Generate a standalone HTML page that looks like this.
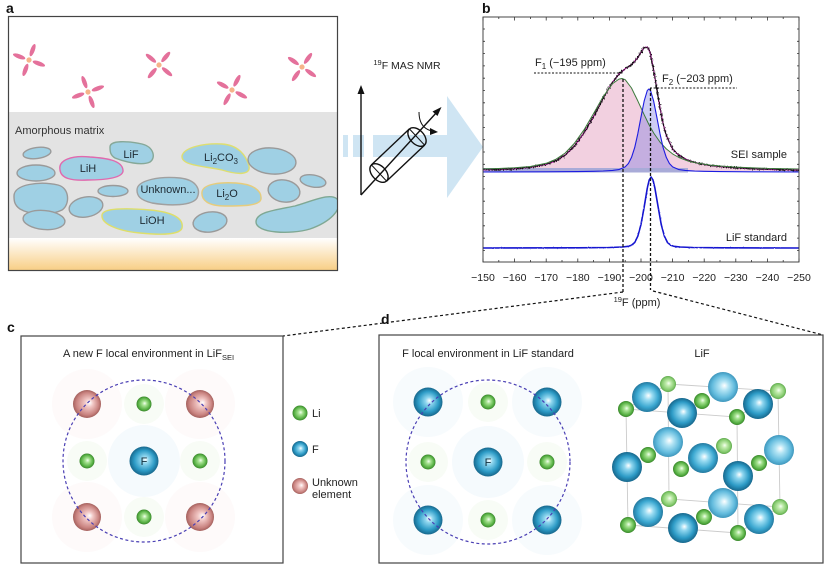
<!DOCTYPE html>
<html><head><meta charset="utf-8">
<style>
html,body{margin:0;padding:0;background:#fff;}
svg{display:block;font-family:"Liberation Sans",Arial,sans-serif;}
</style></head><body>
<svg width="829" height="572" viewBox="0 0 829 572" xmlns="http://www.w3.org/2000/svg">
<defs>
 <linearGradient id="gOr" x1="0" y1="0" x2="0" y2="1"><stop offset="0" stop-color="#ffffff"/><stop offset="1" stop-color="#f8cf86"/></linearGradient>
 <radialGradient id="gBd" cx="0.5" cy="0.5" r="0.5" fx="0.55" fy="0.45"><stop offset="0" stop-color="#ffffff"/><stop offset="0.25" stop-color="#8fd6ef"/><stop offset="0.7" stop-color="#2d9bc6"/><stop offset="1" stop-color="#17678c"/></radialGradient>
 <radialGradient id="gBm" cx="0.5" cy="0.5" r="0.5" fx="0.55" fy="0.45"><stop offset="0" stop-color="#ffffff"/><stop offset="0.28" stop-color="#9adcf2"/><stop offset="0.72" stop-color="#3aa7d0"/><stop offset="1" stop-color="#24799f"/></radialGradient>
 <radialGradient id="gBl" cx="0.5" cy="0.5" r="0.5" fx="0.55" fy="0.45"><stop offset="0" stop-color="#ffffff"/><stop offset="0.3" stop-color="#b2e4f4"/><stop offset="0.75" stop-color="#62bbdd"/><stop offset="1" stop-color="#3f97bd"/></radialGradient>
 <radialGradient id="gG" cx="0.5" cy="0.5" r="0.5" fx="0.55" fy="0.45"><stop offset="0" stop-color="#f2fff0"/><stop offset="0.3" stop-color="#a6e291"/><stop offset="0.78" stop-color="#56b043"/><stop offset="1" stop-color="#3a862c"/></radialGradient>
 <radialGradient id="gGl" cx="0.5" cy="0.5" r="0.5" fx="0.55" fy="0.45"><stop offset="0" stop-color="#f6fff2"/><stop offset="0.3" stop-color="#c2ecae"/><stop offset="0.78" stop-color="#86cb6f"/><stop offset="1" stop-color="#5ea84c"/></radialGradient>
 <radialGradient id="gP" cx="0.5" cy="0.5" r="0.5" fx="0.6" fy="0.45"><stop offset="0" stop-color="#ffffff"/><stop offset="0.3" stop-color="#f1c6c4"/><stop offset="0.8" stop-color="#c98380"/><stop offset="1" stop-color="#a4605d"/></radialGradient>
 <clipPath id="cp"><rect x="483" y="17" width="316" height="245"/></clipPath>
 <clipPath id="ca"><rect x="9" y="17" width="328" height="253"/></clipPath>
 <filter id="nz" filterUnits="userSpaceOnUse" x="470" y="20" width="340" height="165" color-interpolation-filters="sRGB">
  <feTurbulence type="fractalNoise" baseFrequency="0.9 0.5" numOctaves="2" seed="3" result="n"/>
  <feDisplacementMap in="SourceGraphic" in2="n" scale="4" xChannelSelector="R" yChannelSelector="G"/>
 </filter>
 <filter id="nz2" filterUnits="userSpaceOnUse" x="470" y="165" width="340" height="95" color-interpolation-filters="sRGB">
  <feTurbulence type="fractalNoise" baseFrequency="0.7 0.3" numOctaves="1" seed="7" result="n"/>
  <feDisplacementMap in="SourceGraphic" in2="n" scale="1.2" xChannelSelector="R" yChannelSelector="G"/>
 </filter>
</defs>

<!-- ===== Panel a ===== -->
<text x="6" y="13" font-size="14" font-weight="bold" fill="#111">a</text>
<g clip-path="url(#ca)">
 <rect x="9" y="112" width="328" height="126" fill="#e3e3e3"/>
 <rect x="9" y="238" width="328" height="32" fill="url(#gOr)"/>
 <g fill="#9fd0e4" stroke-width="1.4">
  <ellipse cx="37" cy="153" rx="14" ry="5.5" transform="rotate(-8 37 153)" stroke="#9a9a9a"/>
  <ellipse cx="36" cy="173" rx="19" ry="8" stroke="#9a9a9a"/>
  <path d="M14,196 C14,184 40,181 58,185 C70,188 70,205 62,210 C50,216 30,215 20,209 C14,205 14,200 14,196Z" stroke="#9a9a9a"/>
  <ellipse cx="44" cy="220" rx="21" ry="9.5" transform="rotate(5 44 220)" stroke="#9a9a9a"/>
  <path d="M60,170 C58,160 72,155 90,157 C105,158 122,160 123,170 C124,178 105,180 88,180 C70,181 61,178 60,170Z" stroke="#e06aae"/>
  <path d="M110,147 C110,140 128,141 142,144 C154,147 156,158 150,162 C142,166 125,162 115,158 C110,155 110,151 110,147Z" stroke="#86a898"/>
  <ellipse cx="113" cy="191" rx="15" ry="5.5" stroke="#9a9a9a"/>
  <ellipse cx="86" cy="207" rx="17" ry="10" transform="rotate(-10 86 207)" stroke="#9a9a9a"/>
  <path d="M137,190 C137,180 160,176 180,178 C197,180 201,190 197,198 C192,206 170,206 152,203 C140,200 137,196 137,190Z" stroke="#a0a0a0"/>
  <path d="M102,215 C103,208 125,208 150,210 C172,212 184,218 182,228 C180,235 160,235 140,233 C118,231 101,224 102,215Z" stroke="#dede6a"/>
  <path d="M182,156 C184,147 205,143 222,144 C238,145 246,155 249,166 C251,175 238,175 222,170 C205,166 181,166 182,156Z" stroke="#dede70"/>
  <path d="M202,192 C203,184 220,182 236,183 C252,184 262,190 261,199 C260,206 242,206 225,206 C208,206 201,200 202,192Z" stroke="#e6cc7c"/>
  <ellipse cx="210" cy="222" rx="17" ry="10" transform="rotate(-8 210 222)" stroke="#9a9a9a"/>
  <ellipse cx="272" cy="161" rx="24" ry="13" transform="rotate(5 272 161)" stroke="#9a9a9a"/>
  <ellipse cx="284" cy="191" rx="16" ry="11" transform="rotate(10 284 191)" stroke="#9a9a9a"/>
  <ellipse cx="313" cy="181" rx="13" ry="6" transform="rotate(10 313 181)" stroke="#9a9a9a"/>
  <path d="M256,222 C256,212 275,210 295,206 C315,200 332,192 338,200 C342,210 330,222 310,229 C290,235 256,233 256,222Z" stroke="#7fa894"/>
 </g>
 <g fill="#e4719b">
  <g transform="translate(29 60) rotate(20)"><ellipse cx="10.5" cy="0" rx="6.5" ry="2.2"/><ellipse cx="-10.5" cy="0" rx="6.5" ry="2.2"/><ellipse cx="0" cy="10.5" rx="2.2" ry="6.5"/><ellipse cx="0" cy="-10.5" rx="2.2" ry="6.5"/><circle r="2.6" fill="#f6b48a"/></g>
  <g transform="translate(88 92) rotate(-20)"><ellipse cx="10.5" cy="0" rx="6.5" ry="2.2"/><ellipse cx="-10.5" cy="0" rx="6.5" ry="2.2"/><ellipse cx="0" cy="10.5" rx="2.2" ry="6.5"/><ellipse cx="0" cy="-10.5" rx="2.2" ry="6.5"/><circle r="2.6" fill="#f6b48a"/></g>
  <g transform="translate(159 65) rotate(40)"><ellipse cx="10.5" cy="0" rx="6.5" ry="2.2"/><ellipse cx="-10.5" cy="0" rx="6.5" ry="2.2"/><ellipse cx="0" cy="10.5" rx="2.2" ry="6.5"/><ellipse cx="0" cy="-10.5" rx="2.2" ry="6.5"/><circle r="2.6" fill="#f6b48a"/></g>
  <g transform="translate(232 90) rotate(28)"><ellipse cx="10.5" cy="0" rx="6.5" ry="2.2"/><ellipse cx="-10.5" cy="0" rx="6.5" ry="2.2"/><ellipse cx="0" cy="10.5" rx="2.2" ry="6.5"/><ellipse cx="0" cy="-10.5" rx="2.2" ry="6.5"/><circle r="2.6" fill="#f6b48a"/></g>
  <g transform="translate(302 67) rotate(35)"><ellipse cx="10.5" cy="0" rx="6.5" ry="2.2"/><ellipse cx="-10.5" cy="0" rx="6.5" ry="2.2"/><ellipse cx="0" cy="10.5" rx="2.2" ry="6.5"/><ellipse cx="0" cy="-10.5" rx="2.2" ry="6.5"/><circle r="2.6" fill="#f6b48a"/></g>
 </g>
</g>
<rect x="8.5" y="16.5" width="329" height="254" fill="none" stroke="#444" stroke-width="1.2"/>
<text x="15" y="134" font-size="11" fill="#333">Amorphous matrix</text>
<g font-size="11" fill="#1d2a33" text-anchor="middle">
 <text x="131" y="158">LiF</text>
 <text x="88" y="172">LiH</text>
 <text x="221" y="161">Li<tspan font-size="8" dy="3">2</tspan><tspan dy="-3">CO</tspan><tspan font-size="8" dy="3">3</tspan></text>
 <text x="168" y="193">Unknown...</text>
 <text x="227" y="197">Li<tspan font-size="8" dy="3">2</tspan><tspan dy="-3">O</tspan></text>
 <text x="152" y="224">LiOH</text>
</g>

<!-- ===== Arrow & NMR ===== -->
<g fill="#cfe5f3">
 <rect x="343" y="135" width="5" height="22"/>
 <rect x="353" y="135" width="11" height="22"/>
 <rect x="373" y="135" width="76" height="22"/>
 <polygon points="447,96 483,147 447,198"/>
</g>
<text x="407" y="69" font-size="10.5" text-anchor="middle" fill="#222"><tspan font-size="7.5" dy="-4">19</tspan><tspan dy="4">F MAS NMR</tspan></text>
<g stroke="#111" stroke-width="1.4" fill="none">
 <line x1="361" y1="195" x2="361" y2="92"/>
 <line x1="361" y1="195" x2="437" y2="112"/>
 <line x1="371.4" y1="164.9" x2="409.4" y2="128.9"/>
 <line x1="386.6" y1="181.1" x2="424.6" y2="145.1"/>
 <ellipse cx="379" cy="173" rx="11" ry="7" transform="rotate(46.5 379 173)"/>
 <ellipse cx="417" cy="137" rx="11" ry="7" transform="rotate(46.5 417 137)"/>
 <line x1="371.4" y1="164.9" x2="386.6" y2="181.1" stroke-width="1"/>
 <line x1="409.4" y1="128.9" x2="424.6" y2="145.1" stroke-width="1"/>
 <path d="M419,112 Q419,128 432,131" stroke-width="1"/>
</g>
<polygon points="361,85 357.5,94 364.5,94" fill="#111"/>
<polygon points="441.5,107 432.5,111.5 437.5,116" fill="#111"/>
<polygon points="438,132 430,128 430,135" fill="#111"/>

<!-- ===== Panel b ===== -->
<text x="482" y="13" font-size="14" font-weight="bold" fill="#111">b</text>
<rect x="483" y="17" width="316" height="245" fill="#fff"/>
<g clip-path="url(#cp)">
 <polygon fill="#f2d0e0" points="483,171 483,168.9 498.8,168.5 514.6,167.8 530.4,166.5 546.2,163.3 555.7,159.4 565.2,153 574.6,143.1 584.1,129.7 593.6,113.5 603.1,96.8 612.6,83.6 618.9,79.1 622,78.5 625.2,79.7 631.5,88 637.8,100.9 644.2,114.8 648.9,124.5 653.6,132.9 660,142.1 666.3,148.9 672.6,153.9 678.9,157.5 688.4,161.1 697.9,163.3 710.5,165.1 723.2,166.3 735.8,167.1 767.4,168.4 799,169 799,171"/>
 <polygon fill="#7070e0" fill-opacity="0.35" points="483,172 546.2,171.8 577.8,171.6 593.6,171.3 603.1,171 612.6,170.4 618.9,169.6 625.2,166.9 628.4,163.5 631.5,157.4 634.7,147.6 637.8,133.7 641,117 644.2,100.9 647.3,90.5 648.9,89 650.5,90.5 653.6,100.9 656.8,117 660,133.7 663.1,147.6 666.3,157.4 669.4,163.5 672.6,166.9 678.9,169.6 685.2,170.4 694.7,171 704.2,171.3 720,171.6 751.6,171.8 799,171.9 799,172"/>
 <rect x="483" y="168" width="205" height="4.5" fill="#a9abd8"/>
 <polyline fill="none" stroke="#cc22b8" stroke-width="1.3" stroke-linejoin="round" points="483,169.9 498.8,169.5 514.6,168.8 530.4,167.4 546.2,164.4 555.7,160.9 565.2,155.1 574.6,145.9 584.1,132.8 593.6,116.5 603.1,98.3 612.6,82 618.9,74.2 625.2,68.7 631.5,64.8 637.8,57.7 641,52.2 644.2,47.5 647.3,47.1 648.9,49.5 650.5,54.1 653.6,69.6 656.8,88.9 660,107.9 663.1,123.6 666.3,135.5 672.6,149.1 678.9,155.5 688.4,160.4 697.9,163.3 710.5,165.5 723.2,166.9 735.8,167.8 751.6,168.7 767.4,169.4 783.2,169.7 799,170.1"/>
 <polyline filter="url(#nz)" fill="none" stroke="#111" stroke-width="1.3" stroke-linejoin="round" points="478,170.5 483,169.9 498.8,169.5 514.6,168.8 530.4,167.4 546.2,164.4 555.7,160.9 565.2,155.1 574.6,145.9 584.1,132.8 593.6,116.5 603.1,98.3 612.6,82 618.9,74.2 625.2,68.7 631.5,64.8 637.8,57.7 641,52.2 644.2,47.5 647.3,47.1 648.9,49.5 650.5,54.1 653.6,69.6 656.8,88.9 660,107.9 663.1,123.6 666.3,135.5 672.6,149.1 678.9,155.5 688.4,160.4 697.9,163.3 710.5,165.5 723.2,166.9 735.8,167.8 751.6,168.7 767.4,169.4 783.2,169.7 799,170.5 805,170.5"/>
 <polyline fill="none" stroke="#3c7a3c" stroke-width="1" stroke-linejoin="round" points="483,168.9 498.8,168.5 514.6,167.8 530.4,166.5 546.2,163.3 555.7,159.4 565.2,153 574.6,143.1 584.1,129.7 593.6,113.5 603.1,96.8 612.6,83.6 618.9,79.1 622,78.5 625.2,79.7 631.5,88 637.8,100.9 644.2,114.8 648.9,124.5 653.6,132.9 660,142.1 666.3,148.9 672.6,153.9 678.9,157.5 688.4,161.1 697.9,163.3 710.5,165.1 723.2,166.3 735.8,167.1 767.4,168.4 799,169"/>
 <polyline fill="none" stroke="#1c1ce0" stroke-width="1.1" stroke-linejoin="round" points="483,172 546.2,171.8 577.8,171.6 593.6,171.3 603.1,171 612.6,170.4 618.9,169.6 625.2,166.9 628.4,163.5 631.5,157.4 634.7,147.6 637.8,133.7 641,117 644.2,100.9 647.3,90.5 648.9,89 650.5,90.5 653.6,100.9 656.8,117 660,133.7 663.1,147.6 666.3,157.4 669.4,163.5 672.6,166.9 678.9,169.6 685.2,170.4 694.7,171 704.2,171.3 720,171.6 751.6,171.8 799,171.9"/>
 <polyline filter="url(#nz2)" fill="none" stroke="#1515d0" stroke-width="1.6" stroke-linejoin="round" points="478,248 577.8,247.8 609.4,247.5 622,247 628.4,246.3 631.5,245.2 634.7,242.5 637.8,236.2 641,224.4 644.2,206.8 647.3,188.1 649.2,180 651.1,177 653,180 654.9,188.1 658.1,206.8 661.2,224.4 664.4,236.2 667.5,242.5 670.7,245.2 673.9,246.3 680.2,247 692.8,247.5 723.2,247.8 805,248"/>
</g>
<rect x="483" y="17" width="316" height="245" fill="none" stroke="#333" stroke-width="0.9"/>
<path stroke="#333" stroke-width="0.8" fill="none" d="
M483,262v-3.5M498.8,262v-2M514.6,262v-3.5M530.4,262v-2M546.2,262v-3.5M562,262v-2M577.8,262v-3.5M593.6,262v-2M609.4,262v-3.5M625.2,262v-2M641,262v-3.5M656.8,262v-2M672.6,262v-3.5M688.4,262v-2M704.2,262v-3.5M720,262v-2M735.8,262v-3.5M751.6,262v-2M767.4,262v-3.5M783.2,262v-2M799,262v-3.5
M483,17v3.5M498.8,17v2M514.6,17v3.5M530.4,17v2M546.2,17v3.5M562,17v2M577.8,17v3.5M593.6,17v2M609.4,17v3.5M625.2,17v2M641,17v3.5M656.8,17v2M672.6,17v3.5M688.4,17v2M704.2,17v3.5M720,17v2M735.8,17v3.5M751.6,17v2M767.4,17v3.5M783.2,17v2M799,17v3.5
M483,29h2M483,41.3h2M483,53.6h2M483,65.9h2M483,78.2h2M483,90.5h2M483,102.8h2M483,115.1h2M483,127.4h2M483,139.7h2M483,152h2M483,164.3h2M483,176.6h2M483,188.9h2M483,201.2h2M483,213.5h2M483,225.8h2M483,238.1h2M483,250.4h2
M799,29h-2M799,41.3h-2M799,53.6h-2M799,65.9h-2M799,78.2h-2M799,90.5h-2M799,102.8h-2M799,115.1h-2M799,127.4h-2M799,139.7h-2M799,152h-2M799,164.3h-2M799,176.6h-2M799,188.9h-2M799,201.2h-2M799,213.5h-2M799,225.8h-2M799,238.1h-2M799,250.4h-2"/>
<g font-size="10.5" fill="#222" text-anchor="middle">
 <text x="483" y="281">−150</text><text x="514.6" y="281">−160</text><text x="546.2" y="281">−170</text><text x="577.8" y="281">−180</text><text x="609.4" y="281">−190</text><text x="641" y="281">−200</text><text x="672.6" y="281">−210</text><text x="704.2" y="281">−220</text><text x="735.8" y="281">−230</text><text x="767.4" y="281">−240</text><text x="799" y="281">−250</text>
</g>
<text x="637" y="306" font-size="11" text-anchor="middle" fill="#222"><tspan font-size="7.5" dy="-4">19</tspan><tspan dy="4">F (ppm)</tspan></text>
<g stroke="#111" stroke-width="1" fill="none">
 <line x1="534" y1="73" x2="623" y2="73" stroke-dasharray="2,1.6"/>
 <line x1="650" y1="88" x2="737" y2="88" stroke-dasharray="2,1.6"/>
 <line x1="623" y1="79" x2="623" y2="292" stroke-width="1.3" stroke-dasharray="3,2"/>
 <line x1="650.5" y1="88" x2="650.5" y2="290" stroke-width="1.3" stroke-dasharray="3,2"/>
 <line x1="623" y1="292" x2="283" y2="336" stroke-width="1.2" stroke-dasharray="3,2.5"/>
 <line x1="653" y1="291" x2="823" y2="335" stroke-width="1.2" stroke-dasharray="3,2.5"/>
</g>
<text x="535" y="66" font-size="11" fill="#222">F<tspan font-size="8" dy="3">1</tspan><tspan dy="-3"> (−195 ppm)</tspan></text>
<text x="662" y="82" font-size="11" fill="#222">F<tspan font-size="8" dy="3">2</tspan><tspan dy="-3"> (−203 ppm)</tspan></text>
<text x="787" y="158" font-size="11" fill="#222" text-anchor="end">SEI sample</text>
<text x="787" y="241" font-size="11" fill="#222" text-anchor="end">LiF standard</text>

<!-- ===== Panel c ===== -->
<text x="7" y="332" font-size="14" font-weight="bold" fill="#111">c</text>
<rect x="21" y="336" width="262" height="227" fill="#fff" stroke="#444" stroke-width="1.2"/>
<text x="63" y="357" font-size="11" fill="#222">A new F local environment in LiF<tspan font-size="7.5" dy="3">SEI</tspan></text>
<g>
 <circle cx="87" cy="404" r="35" fill="#fefafa"/><circle cx="200" cy="404" r="35" fill="#fefafa"/>
 <circle cx="87" cy="517" r="35" fill="#fefafa"/><circle cx="200" cy="517" r="35" fill="#fefafa"/>
 <circle cx="144" cy="404" r="20" fill="#f8fcf6"/><circle cx="87" cy="461" r="20" fill="#f8fcf6"/>
 <circle cx="200" cy="461" r="20" fill="#f8fcf6"/><circle cx="144" cy="517" r="20" fill="#f8fcf6"/>
 <circle cx="144" cy="461" r="36" fill="#f5fafd"/>
 <circle cx="87" cy="404" r="14" fill="url(#gP)"/><circle cx="200" cy="404" r="14" fill="url(#gP)"/>
 <circle cx="87" cy="517" r="14" fill="url(#gP)"/><circle cx="200" cy="517" r="14" fill="url(#gP)"/>
 <circle cx="144" cy="404" r="7.5" fill="url(#gG)"/><circle cx="87" cy="461" r="7.5" fill="url(#gG)"/>
 <circle cx="200" cy="461" r="7.5" fill="url(#gG)"/><circle cx="144" cy="517" r="7.5" fill="url(#gG)"/>
 <circle cx="144" cy="461" r="14.5" fill="url(#gBd)"/>
</g>
<text x="144" y="465" font-size="11" text-anchor="middle" fill="#13303d">F</text>
<circle cx="144" cy="461" r="81" fill="none" stroke="#4a3fb4" stroke-width="1.2" stroke-dasharray="3,2.5"/>
<circle cx="300" cy="413" r="7.5" fill="url(#gG)"/>
<circle cx="300" cy="449" r="8" fill="url(#gBd)"/>
<circle cx="300" cy="486" r="8" fill="url(#gP)"/>
<g font-size="11" fill="#222">
 <text x="312" y="417">Li</text>
 <text x="312" y="453">F</text>
 <text x="312" y="486">Unknown</text>
 <text x="312" y="498">element</text>
</g>

<!-- ===== Panel d ===== -->
<text x="381" y="324" font-size="14" font-weight="bold" fill="#111">d</text>
<rect x="379" y="335" width="444" height="228" fill="#fff" stroke="#444" stroke-width="1.2"/>
<text x="488" y="357" font-size="11" fill="#222" text-anchor="middle">F local environment in LiF standard</text>
<text x="702" y="357" font-size="11" fill="#222" text-anchor="middle">LiF</text>
<g>
 <circle cx="428" cy="402" r="35" fill="#f7fbfd"/><circle cx="547" cy="402" r="35" fill="#f7fbfd"/>
 <circle cx="428" cy="520" r="35" fill="#f7fbfd"/><circle cx="547" cy="520" r="35" fill="#f7fbfd"/>
 <circle cx="488" cy="402" r="20" fill="#f8fcf6"/><circle cx="428" cy="462" r="20" fill="#f8fcf6"/>
 <circle cx="547" cy="462" r="20" fill="#f8fcf6"/><circle cx="488" cy="520" r="20" fill="#f8fcf6"/>
 <circle cx="488" cy="462" r="36" fill="#f5fafd"/>
 <circle cx="428" cy="402" r="14.5" fill="url(#gBd)"/><circle cx="547" cy="402" r="14.5" fill="url(#gBd)"/>
 <circle cx="428" cy="520" r="14.5" fill="url(#gBd)"/><circle cx="547" cy="520" r="14.5" fill="url(#gBd)"/>
 <circle cx="488" cy="402" r="7.5" fill="url(#gG)"/><circle cx="428" cy="462" r="7.5" fill="url(#gG)"/>
 <circle cx="547" cy="462" r="7.5" fill="url(#gG)"/><circle cx="488" cy="520" r="7.5" fill="url(#gG)"/>
 <circle cx="488" cy="462" r="14.5" fill="url(#gBd)"/>
</g>
<text x="488" y="466" font-size="11" text-anchor="middle" fill="#13303d">F</text>
<circle cx="488" cy="462" r="82" fill="none" stroke="#4a3fb4" stroke-width="1.2" stroke-dasharray="3,2.5"/>
<g stroke="#cbcbcb" stroke-width="0.9" fill="none">
 <polygon points="626,409 737,417 738,533 628,525"/>
 <polygon points="668,384 778,391 780,507 669,499"/>
 <line x1="626" y1="409" x2="668" y2="384"/>
 <line x1="737" y1="417" x2="778" y2="391"/>
 <line x1="738" y1="533" x2="780" y2="507"/>
 <line x1="628" y1="525" x2="669" y2="499"/>
</g>
<g>
 <circle cx="668" cy="384" r="8" fill="url(#gGl)"/>
 <circle cx="723" cy="387" r="15" fill="url(#gBl)"/>
 <circle cx="778" cy="391" r="8" fill="url(#gGl)"/>
 <circle cx="668" cy="442" r="15" fill="url(#gBl)"/>
 <circle cx="724" cy="446" r="8" fill="url(#gGl)"/>
 <circle cx="779" cy="450" r="15" fill="url(#gBl)"/>
 <circle cx="669" cy="499" r="8" fill="url(#gGl)"/>
 <circle cx="723" cy="503" r="15" fill="url(#gBl)"/>
 <circle cx="780" cy="507" r="8" fill="url(#gGl)"/>
 <circle cx="647" cy="397" r="15" fill="url(#gBm)"/>
 <circle cx="702" cy="401" r="8" fill="url(#gG)"/>
 <circle cx="758" cy="404" r="15" fill="url(#gBd)"/>
 <circle cx="648" cy="455" r="8" fill="url(#gG)"/>
 <circle cx="703" cy="458" r="15" fill="url(#gBm)"/>
 <circle cx="759" cy="463" r="8" fill="url(#gG)"/>
 <circle cx="648" cy="512" r="15" fill="url(#gBm)"/>
 <circle cx="704" cy="517" r="8" fill="url(#gG)"/>
 <circle cx="759" cy="519" r="15" fill="url(#gBm)"/>
 <circle cx="626" cy="409" r="8" fill="url(#gG)"/>
 <circle cx="682" cy="413" r="15" fill="url(#gBd)"/>
 <circle cx="737" cy="417" r="8" fill="url(#gG)"/>
 <circle cx="627" cy="467" r="15" fill="url(#gBd)"/>
 <circle cx="681" cy="469" r="8" fill="url(#gG)"/>
 <circle cx="738" cy="476" r="15" fill="url(#gBd)"/>
 <circle cx="628" cy="525" r="8" fill="url(#gG)"/>
 <circle cx="683" cy="528" r="15" fill="url(#gBd)"/>
 <circle cx="738" cy="533" r="8" fill="url(#gG)"/>
</g>
</svg>
</body></html>
